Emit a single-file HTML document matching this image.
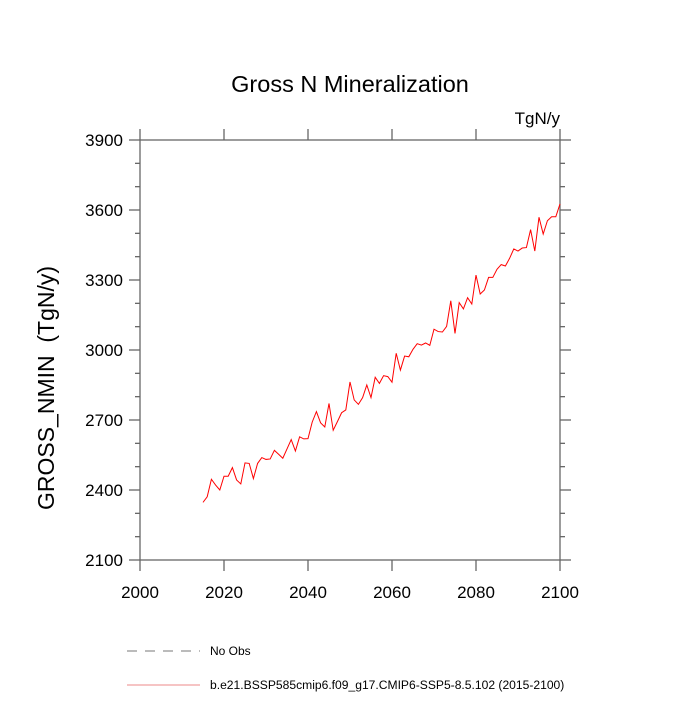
<!DOCTYPE html>
<html><head><meta charset="utf-8"><style>
body{margin:0;background:#fff}
svg text{font-family:"Liberation Sans",sans-serif;fill:#000}
</style></head><body>
<svg id="chart" width="700" height="700" viewBox="0 0 700 700">
<text x="350" y="92" font-size="23.5" text-anchor="middle">Gross N Mineralization</text>
<text x="560" y="124" font-size="17" text-anchor="end">TgN/y</text>
<text transform="translate(54,388) rotate(-90)" font-size="23" text-anchor="middle">GROSS_NMIN&#160;&#160;(TgN/y)</text>
<g id="axes"></g>
<g id="series"></g>
<g>
<line x1="127" y1="651" x2="200" y2="651" stroke="#777" stroke-dasharray="10,8"/>
<text x="210" y="655" font-size="12">No Obs</text>
<line x1="127" y1="685" x2="200" y2="685" stroke="#e88"/>
<text x="210" y="689" font-size="12.1">b.e21.BSSP585cmip6.f09_g17.CMIP6-SSP5-8.5.102 (2015-2100)</text>
</g>
</svg>
<script>
const years=[];for(let y=2015;y<=2100;y++)years.push(y);
const values=[2347,2371,2446,2421,2400,2459,2459,2496,2443,2426,2516,2514,2449,2514,2539,2531,2533,2570,2553,2536,2576,2616,2567,2628,2619,2620,2691,2736,2688,2670,2771,2656,2693,2731,2743,2863,2786,2767,2796,2850,2796,2883,2857,2890,2886,2862,2986,2914,2974,2971,3003,3027,3021,3030,3020,3089,3079,3077,3101,3211,3071,3203,3176,3224,3197,3321,3240,3257,3311,3311,3346,3366,3360,3393,3433,3424,3437,3439,3516,3424,3569,3497,3554,3571,3571,3626];
const xTicks=[2000,2020,2040,2060,2080,2100];
const yTicks=[2100,2400,2700,3000,3300,3600,3900];
const X0=140,X1=560,Y0=140,Y1=560;
const xs=v=>X0+(v-2000)/100*(X1-X0);
const ys=v=>Y1-(v-2100)/1800*(Y1-Y0);
const NS="http://www.w3.org/2000/svg";
const ax=document.getElementById('axes');
function ln(x1,y1,x2,y2,name){const l=document.createElementNS(NS,'line');l.setAttribute('x1',x1);l.setAttribute('y1',y1);l.setAttribute('x2',x2);l.setAttribute('y2',y2);l.setAttribute('stroke','#666');l.setAttribute('stroke-width','1.3');


ax.appendChild(l);}
const fr=document.createElementNS(NS,'rect');
fr.setAttribute('x',X0);fr.setAttribute('y',Y0);fr.setAttribute('width',X1-X0);fr.setAttribute('height',Y1-Y0);fr.setAttribute('fill','none');fr.setAttribute('stroke','#666');fr.setAttribute('stroke-width','1.3');


ax.appendChild(fr);
xTicks.forEach(t=>{const x=xs(t);ln(x,Y1,x,Y1+11,'x-tick');ln(x,Y0,x,Y0-11,'x-tick-top');
const tx=document.createElementNS(NS,'text');tx.setAttribute('x',x);tx.setAttribute('y',Y1+38);tx.setAttribute('font-size','17');tx.setAttribute('text-anchor','middle');tx.textContent=t;


ax.appendChild(tx);});
for(let v=2100;v<=3900;v+=100){const y=ys(v);const major=(v-2100)%300===0;const L=major?11:5;ln(X0-L,y,X0,y,'y-tick');ln(X1,y,X1+L,y,'y-tick-right');}
yTicks.forEach(t=>{const tx=document.createElementNS(NS,'text');tx.setAttribute('x',X0-17);tx.setAttribute('y',ys(t)+6);tx.setAttribute('font-size','17');tx.setAttribute('text-anchor','end');tx.textContent=t;


ax.appendChild(tx);});
const p=document.createElementNS(NS,'polyline');
p.setAttribute('points',years.map((y,i)=>xs(y)+','+ys(values[i])).join(' '));
p.setAttribute('fill','none');p.setAttribute('stroke','#f00');p.setAttribute('stroke-width','1');


document.getElementById('series').appendChild(p);
</script>
</body></html>
